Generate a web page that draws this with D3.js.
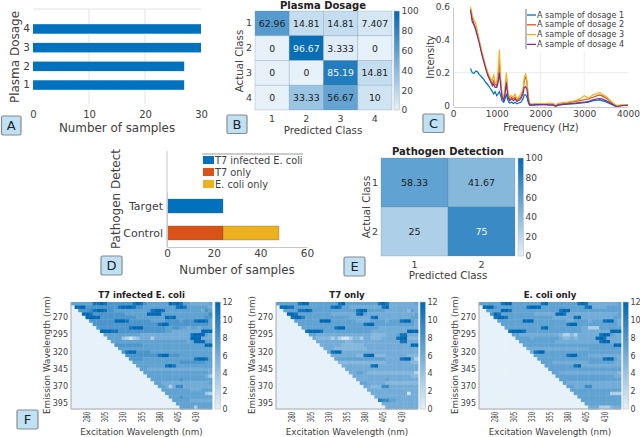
<!DOCTYPE html>
<meta charset="utf-8">
<style>
body { margin: 0; background: #fff; }
svg { display: block; }
text { font-family: "DejaVu Sans", sans-serif; fill: #404040; }
.title { font-weight: bold; fill: #222; }
.domain { stroke: #c8c8c8; }
.tick line { stroke: #b0b0b0; }
.cells { filter: blur(0.45px); }
</style>
<svg id="chart" width="640" height="437"></svg>
<script src="https://d3js.org/d3.v7.min.js"></script>
<script>

var dosageClasses = ["1", "2", "3", "4"];
var dosageCounts = [27, 27, 30, 30];
var dosageMatrix = [
  [62.96, 14.81, 14.81, 7.407],
  [0, 96.67, 3.333, 0],
  [0, 0, 85.19, 14.81],
  [0, 33.33, 56.67, 10]
];

var freq = [400,440,480,520,560,600,650,700,750,800,850,900,930,960,1000,1030,1060,1090,1120,1160,1190,1220,1250,1290,1340,1380,1420,1460,1500,1550,1600,1630,1660,1690,1720,1750,1800,1900,2000,2100,2200,2300,2350,2400,2500,2600,2700,2800,2900,3000,3100,3200,3300,3350,3400,3500,3600,3700,3750,3800,3900,4000];
var sample1 = [.225,.2,.195,.21,.205,.19,.175,.16,.14,.125,.105,.085,.07,.085,.06,.07,.085,.06,.03,.02,.04,.07,.035,.015,.02,.012,.02,.01,.015,.02,.04,.065,.065,.05,.02,.002,0,.003,.005,.005,.003,0,-.004,.002,.005,.008,.01,.012,.015,.018,.02,.03,.032,.034,.03,.022,.01,-.003,-.005,-.003,0,0];
var sample2 = [.59,.53,.5,.47,.43,.39,.33,.28,.23,.19,.16,.13,.15,.13,.12,.17,.26,.14,.06,.04,.09,.17,.08,.04,.05,.04,.05,.03,.04,.05,.09,.15,.18,.14,.05,.01,.005,.01,.01,.01,.01,.008,-.005,.01,.012,.015,.02,.025,.03,.035,.04,.05,.06,.065,.06,.045,.025,.005,-.004,0,.002,.004];
var sample3 = [.6,.55,.52,.5,.45,.4,.34,.29,.24,.2,.17,.15,.19,.14,.14,.2,.34,.16,.07,.05,.11,.2,.09,.05,.06,.05,.07,.04,.05,.07,.1,.17,.19,.15,.06,.015,.008,.012,.012,.012,.015,.012,0,.012,.018,.02,.025,.03,.04,.06,.045,.065,.075,.08,.07,.055,.03,.005,0,.002,.004,.005];
var sample4 = [.58,.51,.49,.46,.42,.38,.32,.27,.22,.18,.15,.12,.13,.11,.11,.14,.2,.12,.05,.03,.07,.14,.06,.03,.04,.03,.04,.025,.03,.04,.07,.11,.115,.1,.03,.005,.002,.005,.005,.005,.004,.003,-.005,.004,.006,.008,.012,.015,.018,.02,.025,.035,.04,.042,.04,.03,.015,-.002,-.006,-.003,0,.001];
var sampleNames = ["A sample of dosage 1", "A sample of dosage 2", "A sample of dosage 3", "A sample of dosage 4"];

var detectClasses = ["Control", "Target"];
var detectNames = ["T7 infected E. coli", "T7 only", "E. coli only"];
var detectCounts = [[0, 24, 24], [24, 0, 0]];
var detectMatrix = [[58.33, 41.67], [25, 75]];

var emission = d3.range(250, 405, 5);
var excitation = d3.range(260, 455, 5);

// one hex digit per cell, split in groups of 10 columns so they can be counted
var heatColi = [
"777777bbcb 8888888bcb 8777777cbc b77666667",
"0ccc888888 888bcccb88 777777777b cb7777776",
"008889bccb 8877777777 77bccb7777 777777687",
"000ccb8888 8888877777 7cccc77777 777777779",
"0000cccc88 8888888877 777777cbc7 777777788",
"0000088888 88cccb8888 8877778888 7888bccb7",
"0000008888 8888888888 8888bcc888 888888887",
"0000000888 888888bccc 8888887788 776776777",
"00000000cc cbb8888888 8888887766 666666ccc",
"0000000007 7777777776 6666666666 666bccc76",
"0000000000 7777431346 6636666666 666ccc666",
"0000000000 0777777777 7777777777 7767ccc77",
"0000000000 0088888888 7777777777 7777777cc",
"0000000000 0007777777 7777777777 777777777",
"0000000000 00008bcc88 8877777777 777777777",
"0000000000 0000088888 8888bcc888 777777777",
"0000000000 0000008888 7777777777 7777bccb7",
"0000000000 0000000777 7777777777 888888877",
"0000000000 0000000077 777777bcb7 777777777",
"0000000000 0000000007 7666666666 666666666",
"0000000000 0000000000 7777777777 777777776",
"0000000000 0000000000 0777777777 777777764",
"0000000000 0000000000 0077777777 877777777",
"0000000000 0000000000 0007766666 666666667",
"0000000000 0000000000 0000776369 966666666",
"0000000000 0000000000 0000077777 777666777",
"0000000000 0000000000 0000007777 777777743",
"0000000000 0000000000 0000000777 877777777",
"0000000000 0000000000 0000000077 777666666",
"0000000000 0000000000 0000000007 777777777",
"0000000000 0000000000 0000000000 777737777"
];
var heatT7 = [
"777777bcc7 7777777bc7 77777777bc b66666667",
"0ccbb77777 77777bcb77 666666666b c66666666",
"007777bbcb 7777777777 77bcc77777 666666576",
"000ccb7777 7777766666 66bc766666 666666667",
"0000bcca77 7777777777 666666bc66 666666677",
"0000077777 77ccc77777 7766667777 6777bcc76",
"0000007777 7777777777 7777bcc777 777777776",
"0000000777 777777bcc7 7777777766 666666666",
"00000000bc ccb7777777 7777776666 666666ccc",
"0000000007 7666666666 6666665555 6667bb666",
"0000000000 6555535311 3553665556 666bcc555",
"0000000000 0666666665 5666666666 6666bb666",
"0000000000 0066666655 5555666666 6666666cc",
"0000000000 0006665555 5555566666 666666666",
"0000000000 00006bcc66 6666666666 666666666",
"0000000000 0000066666 6655bcc555 666666555",
"0000000000 0000007777 7777777777 6666bcc63",
"0000000000 0000000555 5555555555 666666655",
"0000000000 0000000066 666666bc66 666666666",
"0000000000 0000000006 6666666666 666666666",
"0000000000 0000000000 6677655555 555555553",
"0000000000 0000000000 0666666666 666666655",
"0000000000 0000000000 0066666666 766666666",
"0000000000 0000000000 0007766666 555555555",
"0000000000 0000000000 0000665559 966666666",
"0000000000 0000000000 0000066666 666666666",
"0000000000 0000000000 0000006666 666666166",
"0000000000 0000000000 0000000666 666666666",
"0000000000 0000000000 00000000a9 977666666",
"0000000000 0000000000 0000000006 666666666",
"0000000000 0000000000 0000000000 666666666"
];
var heatEcoli = [
"777777bcc7 7777777bc7 7777777bcb 666666667",
"0ccc877777 777bccc777 777777777b c66667777",
"007777ccb7 7777777777 77bcc77777 777777777",
"0008cb7777 7777766666 6ccb666666 666666667",
"0000bccb77 7777777777 666666bc66 666666677",
"0000077777 77ccc77777 7777667777 6777bcc76",
"0000007777 7777777777 7777bcc777 777777776",
"0000000777 7777777bc7 7777777766 333777777",
"00000000bc ccb7777777 7777777766 666666ccc",
"0000000007 7666666666 6653353666 666bcc766",
"0000000000 7777677777 7765565666 66ccb6666",
"0000000000 0777777777 7666666666 666bcc666",
"0000000000 0077777777 7777777777 7777777cc",
"0000000000 0006666666 6666666666 777777777",
"0000000000 00006bcc77 7777777777 777777777",
"0000000000 0000077777 7777bcc777 666666666",
"0000000000 0000007777 7777777777 7777bcc76",
"0000000000 0000000777 6666666666 777777766",
"0000000000 0000000077 777777bc66 666666666",
"0000000000 0000000007 7777777777 777777777",
"0000000000 0000000000 7766666666 666666665",
"0000000000 0000000000 0777777777 777777766",
"0000000000 0000000000 0077777777 777777777",
"0000000000 0000000000 0007666666 666666666",
"0000000000 0000000000 0000776669 966666666",
"0000000000 0000000000 0000077777 777777777",
"0000000000 0000000000 0000007777 777777333",
"0000000000 0000000000 0000000777 777777777",
"0000000000 0000000000 0000000077 777777777",
"0000000000 0000000000 0000000007 777777777",
"0000000000 0000000000 0000000000 666333566"
];

var svg = d3.select("#chart");
var blues = d3.scaleLinear().domain([0, 1]).range(["#e6f1f9", "#0069b4"]);

function addText(x, y, str, size, opt) {
  opt = opt || {};
  var t = svg.append("text")
    .attr("x", x).attr("y", y)
    .attr("font-size", size)
    .attr("text-anchor", opt.anchor || "middle")
    .attr("dominant-baseline", "central")
    .text(str);
  if (opt.rotate) t.attr("transform", "rotate(" + opt.rotate + " " + x + " " + y + ")");
  if (opt.cls) t.attr("class", opt.cls);
  if (opt.fill) t.style("fill", opt.fill);
  return t;
}

function panelTag(x, y, w, h, letter) {
  svg.append("rect").attr("x", x).attr("y", y).attr("width", w).attr("height", h)
    .attr("rx", 1.5).attr("fill", "#bfe1f6").attr("stroke", "#8a8a8a").attr("stroke-width", 1.2);
  addText(x + w / 2, y + h / 2, letter, 13, { fill: "#222" });
}

function placeAxis(g, fontSize) {
  g.selectAll("text").attr("font-size", fontSize).attr("font-family", null);
  return g;
}

// colorbar with a gradient, used by the matrices and heatmaps
var gradId = 0;
function colorbar(x, y0, y1, w, max, ticks, fontSize) {
  var id = "bar" + (gradId++);
  var grad = svg.append("defs").append("linearGradient").attr("id", id)
    .attr("x1", 0).attr("x2", 0).attr("y1", 1).attr("y2", 0);
  grad.append("stop").attr("offset", "0%").attr("stop-color", blues(0));
  grad.append("stop").attr("offset", "100%").attr("stop-color", blues(1));
  svg.append("rect").attr("x", x).attr("y", y0).attr("width", w).attr("height", y1 - y0)
    .attr("fill", "url(#" + id + ")").attr("stroke", "#c0c0c0").attr("stroke-width", 0.6);
  var s = d3.scaleLinear().domain([0, max]).range([y1, y0]);
  var g = svg.append("g").attr("transform", "translate(" + (x + w) + ",0)")
    .call(d3.axisRight(s).tickValues(ticks).tickSize(0).tickPadding(2));
  g.select(".domain").remove();
  placeAxis(g, fontSize);
}

function confusion(box, matrix, labels, fontSize, tickOff) {
  var x = d3.scaleBand().domain(labels).range([box.x0, box.x1]);
  var y = d3.scaleBand().domain(labels).range([box.y0, box.y1]);
  labels.forEach(function(rowName, i) {
    var g = svg.append("g");
    g.selectAll("rect").data(matrix[i]).enter().append("rect")
      .attr("x", function(d, j) { return x(labels[j]); })
      .attr("y", y(rowName))
      .attr("width", x.bandwidth())
      .attr("height", y.bandwidth())
      .attr("fill", function(d) { return blues(d / 100); })
      .attr("stroke", "#5f7f99").attr("stroke-opacity", 0.35).attr("stroke-width", 0.7);
    g.selectAll("text").data(matrix[i]).enter().append("text")
      .attr("x", function(d, j) { return x(labels[j]) + x.bandwidth() / 2; })
      .attr("y", y(rowName) + y.bandwidth() / 2)
      .attr("text-anchor", "middle").attr("dominant-baseline", "central")
      .attr("font-size", fontSize)
      .style("fill", function(d) { return d > 70 ? "#f2f7fb" : "#1c1c1c"; })
      .text(function(d) { return d; });
  });
  var gx = svg.append("g").attr("transform", "translate(0," + box.y1 + ")")
    .call(d3.axisBottom(x).tickSize(0).tickPadding(tickOff));
  gx.select(".domain").remove();
  placeAxis(gx, 9.5);
  var gy = svg.append("g").attr("transform", "translate(" + box.x0 + ",0)")
    .call(d3.axisLeft(y).tickSize(0).tickPadding(3));
  gy.select(".domain").remove();
  placeAxis(gy, 9.5);
}

function heatmap(box, rows, title) {
  var x = d3.scaleBand().domain(excitation).range([box.x0, box.x1]);
  var y = d3.scaleBand().domain(emission).range([box.y0, box.y1]);
  var c = d3.scaleLinear().domain([0, 12]).range([blues(0), blues(1)]);
  var cells = svg.append("g").attr("class", "cells");
  rows.forEach(function(str, r) {
    var vals = str.replace(/ /g, "").split("").map(function(ch) { return parseInt(ch, 16); });
    cells.append("g").selectAll("rect").data(vals).enter().append("rect")
      .attr("x", function(d, j) { return x(excitation[j]); })
      .attr("y", y(emission[r]))
      .attr("width", x.bandwidth() + 0.4)
      .attr("height", y.bandwidth() + 0.4)
      .attr("fill", function(d) { return c(d); });
  });
  svg.append("path").attr("fill", "none").attr("stroke", "#a8a8a8").attr("stroke-width", 1)
    .attr("d", "M" + box.x0 + "," + box.y0 + "V" + box.y1 + "H" + box.x1);
  var gy = svg.append("g").attr("transform", "translate(" + box.x0 + ",0)")
    .call(d3.axisLeft(y).tickValues([270, 295, 320, 345, 370, 395]).tickSize(0).tickPadding(3));
  gy.select(".domain").remove();
  placeAxis(gy, 8);
  var gx = svg.append("g").attr("transform", "translate(0," + box.y1 + ")")
    .call(d3.axisBottom(x).tickValues([280, 305, 330, 355, 380, 405, 430]).tickSize(0));
  gx.select(".domain").remove();
  placeAxis(gx, 9.5);
  // the original panel is squeezed, so the turned labels come out short and wide
  gx.selectAll("text")
    .attr("transform", "rotate(-90) scale(0.58,1)")
    .attr("text-anchor", "end")
    .attr("dominant-baseline", "central")
    .attr("x", -4.6).attr("y", 0).attr("dy", null);
  colorbar(box.bar, box.y0, box.y1, 5.5, 12, [0, 2, 4, 6, 8, 10, 12], 8);
  var mid = (box.x0 + box.x1) / 2;
  addText(mid, 295, title, 8.6, { cls: "title" });
  addText(mid, 431.5, "Excitation Wavelength (nm)", 8.8);
  addText(box.x0 - 24, 355, "Emission Wavelength (nm)", 8.8, { rotate: -90 });
}

// ---- A
var xA = d3.scaleLinear().domain([0, 30]).range([33, 201]);
var yA = d3.scaleBand().domain(dosageClasses.slice().reverse()).range([19.5, 94.5]).paddingInner(0.49).paddingOuter(0.25);
svg.append("g").selectAll("line").data([10, 20]).enter().append("line")
  .attr("x1", xA).attr("x2", xA).attr("y1", 9).attr("y2", 104)
  .attr("stroke", "#e4e4e4");
svg.append("line").attr("x1", 33).attr("x2", 201).attr("y1", 9).attr("y2", 9).attr("stroke", "#e4e4e4");
svg.append("g").selectAll("rect").data(dosageCounts).enter().append("rect")
  .attr("x", xA(0))
  .attr("y", function(d, i) { return yA(dosageClasses[i]); })
  .attr("width", function(d) { return xA(d) - xA(0); })
  .attr("height", yA.bandwidth())
  .attr("fill", "#0072bd");
var gxA = svg.append("g").attr("transform", "translate(0,106)")
  .call(d3.axisBottom(xA).tickValues([0, 10, 20, 30]).tickSize(0).tickPadding(5));
gxA.select(".domain").remove();
placeAxis(gxA, 10);
var gyA = svg.append("g").attr("transform", "translate(33,0)")
  .call(d3.axisLeft(yA).tickSize(0).tickPadding(3));
gyA.select(".domain").remove();
placeAxis(gyA, 10.5);
addText(117, 128, "Number of samples", 11.9);
addText(15, 57, "Plasma Dosage", 12, { rotate: -90 });
panelTag(1.5, 116, 19.5, 19, "A");

// ---- B
confusion({ x0: 255, x1: 392, y0: 11, y1: 110 }, dosageMatrix, dosageClasses, 9.3, 5);
colorbar(394, 11, 110, 5.5, 100, [0, 20, 40, 60, 80, 100], 9);
addText(323, 5, "Plasma Dosage", 10, { cls: "title" });
addText(323, 130, "Predicted Class", 10.3);
addText(239, 61, "Actual Class", 10.3, { rotate: -90 });
panelTag(227, 115, 20, 18.5, "B");

// ---- C
var xC = d3.scaleLinear().domain([0, 4000]).range([453, 628]);
var yC = d3.scaleLinear().domain([0, 0.6]).range([105.5, 7]);
svg.append("line").attr("x1", 453).attr("x2", 628).attr("y1", yC(0.2)).attr("y2", yC(0.2)).attr("stroke", "#ececec");
svg.append("g").selectAll("line").data([1000, 2000, 3000]).enter().append("line")
  .attr("x1", xC).attr("x2", xC).attr("y1", 52).attr("y2", 107).attr("stroke", "#efefef");
var gxC = svg.append("g").attr("transform", "translate(0,107)")
  .call(d3.axisBottom(xC).tickValues([0, 1000, 2000, 3000, 4000]).tickFormat(d3.format("d")).tickSize(0).tickPadding(4));
placeAxis(gxC, 9);
var gyC = svg.append("g").attr("transform", "translate(453,0)")
  .call(d3.axisLeft(yC).tickValues([0, 0.2, 0.4, 0.6]).tickFormat(function(d) { return d; }).tickSize(0).tickPadding(3));
placeAxis(gyC, 9);
var lineC = d3.line()
  .x(function(d, i) { return xC(freq[i]); })
  .y(function(d) { return yC(d); });
var sampleColors = ["#0072bd", "#d95319", "#edb120", "#7e2f8e"];
[sample1, sample2, sample3, sample4].forEach(function(s, i) {
  svg.append("path").attr("d", lineC(s)).attr("fill", "none")
    .attr("stroke", sampleColors[i]).attr("stroke-width", 1.2);
});
svg.append("line").attr("x1", 526).attr("x2", 526).attr("y1", 9).attr("y2", 49).attr("stroke", "#777");
svg.append("g").selectAll("line").data(sampleNames).enter().append("line")
  .attr("x1", 527).attr("x2", 536)
  .attr("y1", function(d, i) { return 15 + i * 9.8; })
  .attr("y2", function(d, i) { return 15 + i * 9.8; })
  .attr("stroke", function(d, i) { return sampleColors[i]; }).attr("stroke-width", 1.3);
sampleNames.forEach(function(name, i) {
  addText(537, 15 + i * 9.8, name, 8.05, { anchor: "start" });
});
addText(541, 127, "Frequency (Hz)", 10);
addText(430, 57, "Intensity", 10, { rotate: -90 });
panelTag(423, 114, 21, 18.5, "C");

// ---- D
var xD = d3.scaleLinear().domain([0, 60]).range([167, 307]);
var yD = d3.scaleBand().domain(detectClasses).range([247, 192]).paddingInner(0.48).paddingOuter(0.26);
var detectColors = ["#0072bd", "#d95319", "#edb120"];
var stackD = d3.stack().keys([0, 1, 2])(detectCounts);
stackD.forEach(function(layer, k) {
  svg.append("g").selectAll("rect").data(layer).enter().append("rect")
    .attr("x", function(d) { return xD(d[0]); })
    .attr("y", function(d, i) { return yD(detectClasses[i]); })
    .attr("width", function(d) { return xD(d[1]) - xD(d[0]); })
    .attr("height", yD.bandwidth())
    .attr("fill", detectColors[k])
    .attr("stroke", "#555").attr("stroke-opacity", 0.45).attr("stroke-width", 0.6);
});
var gxD = svg.append("g").attr("transform", "translate(0,247)")
  .call(d3.axisBottom(xD).tickValues([0, 20, 40, 60]).tickSize(0).tickPadding(3));
placeAxis(gxD, 10.5);
var gyD = svg.append("g").attr("transform", "translate(167,0)")
  .call(d3.axisLeft(yD).tickSize(0).tickPadding(4));
placeAxis(gyD, 11);
svg.append("line").attr("x1", 167).attr("x2", 167).attr("y1", 151).attr("y2", 247).attr("stroke", "#c8c8c8");
svg.append("line").attr("x1", 202).attr("x2", 303).attr("y1", 154).attr("y2", 154).attr("stroke", "#999");
detectNames.forEach(function(name, i) {
  svg.append("rect").attr("x", 203).attr("y", 156 + i * 12).attr("width", 11).attr("height", 8).attr("fill", detectColors[i]);
  addText(215, 160 + i * 12, name, 9.8, { anchor: "start" });
});
addText(237, 270, "Number of samples", 11.8);
addText(116, 199, "Pathogen Detect", 12, { rotate: -90 });
panelTag(101, 256, 21, 19, "D");

// ---- E
confusion({ x0: 381, x1: 515, y0: 158, y1: 256 }, detectMatrix, ["1", "2"], 9.5, 5);
colorbar(518, 158, 256, 5.5, 100, [0, 20, 40, 60, 80, 100], 9);
addText(448, 151, "Pathogen Detection", 10, { cls: "title" });
addText(448, 275, "Predicted Class", 10.3);
addText(366, 207, "Actual Class", 10.3, { rotate: -90 });
panelTag(344, 257, 21, 19, "E");

// ---- F
heatmap({ x0: 71, x1: 212, y0: 302, y1: 409, bar: 215 }, heatColi, "T7 infected E. coli");
heatmap({ x0: 276, x1: 418, y0: 302, y1: 409, bar: 420 }, heatT7, "T7 only");
heatmap({ x0: 479, x1: 621, y0: 302, y1: 409, bar: 623 }, heatEcoli, "E. coli only");
panelTag(17, 410, 21, 19, "F");

</script>
